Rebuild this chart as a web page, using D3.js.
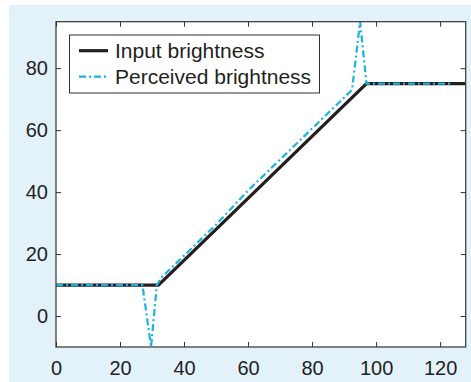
<!DOCTYPE html>
<html><head><meta charset="utf-8">
<script src="https://cdn.jsdelivr.net/npm/d3@7"></script>
<style>body{margin:0;background:#fff;}svg{display:block;}</style>
</head><body>
<svg id="c" width="471" height="382"></svg>
<script>
const inputX = [0, 32, 97, 128];
const inputY = [10, 10, 75, 75];
const percX = [0, 27, 29.7, 31.5, 33, 40, 50, 60, 70, 80, 90, 92.5, 95, 97, 124];
const percY = [10, 10, -10, 10, 12.5, 19.5, 29.5, 40.5, 50.5, 60.5, 70.5, 73, 95, 75, 75];
const xTicks = [0, 20, 40, 60, 80, 100, 120];
const yTicks = [0, 20, 40, 60, 80];
const legendLabels = ["Input brightness", "Perceived brightness"];

const svg = d3.select("#c");
svg.append("rect").attr("x", 9).attr("y", 5).attr("width", 462).attr("height", 377).attr("fill", "#e3f2fa");

const L = 56, T = 21.7, R = 465.7, B = 347;
const x = d3.scaleLinear().domain([0, 128]).range([L, R]);
const y = d3.scaleLinear().domain([-10, 95]).range([B, T]);

svg.append("rect").attr("x", L).attr("y", T).attr("width", R - L).attr("height", B - T).attr("fill", "#fff");

svg.append("clipPath").attr("id", "clip").append("rect")
  .attr("x", L).attr("y", T).attr("width", R - L).attr("height", B - T);

const textColor = "#231f20";
const font = "'Liberation Sans', Arial, sans-serif";

function styleAxis(g) {
  g.select(".domain").remove();
  g.selectAll(".tick line").attr("stroke", "#333").attr("stroke-width", 1);
  g.selectAll(".tick text").attr("fill", textColor).style("font-family", font).style("font-size", "20px");
}
svg.append("g").attr("transform", `translate(0,${B})`)
  .call(d3.axisBottom(x).tickValues(xTicks).tickSize(-5).tickPadding(14))
  .call(styleAxis);
svg.append("g").attr("transform", `translate(0,${T})`)
  .call(d3.axisTop(x).tickValues(xTicks).tickSize(-5).tickFormat(""))
  .call(styleAxis);
svg.append("g").attr("transform", `translate(${L},0)`)
  .call(d3.axisLeft(y).tickValues(yTicks).tickSize(-5).tickPadding(8))
  .call(styleAxis);
svg.append("g").attr("transform", `translate(${R},0)`)
  .call(d3.axisRight(y).tickValues(yTicks).tickSize(-5).tickFormat(""))
  .call(styleAxis);

const line = d3.line().x(d => x(d[0])).y(d => y(d[1]));
const plot = svg.append("g").attr("clip-path", "url(#clip)");
plot.append("path").datum(inputX.map((v, i) => [v, inputY[i]]))
  .attr("d", line).attr("fill", "none").attr("stroke", "#231f20").attr("stroke-width", 3.2);
plot.append("path").datum(percX.map((v, i) => [v, percY[i]]))
  .attr("d", line).attr("fill", "none").attr("stroke", "#1ab3e0").attr("stroke-width", 2.2)
  .attr("stroke-dasharray", "7,3,2,3");

svg.append("rect").attr("x", L).attr("y", T).attr("width", R - L).attr("height", B - T)
  .attr("fill", "none").attr("stroke", "#333").attr("stroke-width", 1.2);

// legend
const lg = svg.append("g");
lg.append("rect").attr("x", 69.5).attr("y", 35).attr("width", 250).attr("height", 58)
  .attr("fill", "#fff").attr("stroke", "#333").attr("stroke-width", 1);
const rows = [{s: "#231f20", w: 3.2, d: null}, {s: "#1ab3e0", w: 2.2, d: "7,3,2,3"}];
legendLabels.forEach((t, i) => {
  const yy = 50.7 + i * 26;
  lg.append("line").attr("x1", 79).attr("x2", 108).attr("y1", yy).attr("y2", yy)
    .attr("stroke", rows[i].s).attr("stroke-width", rows[i].w).attr("stroke-dasharray", rows[i].d);
  lg.append("text").attr("x", 115).attr("y", yy + 7.5).text(t)
    .attr("fill", textColor).style("font-family", font).style("font-size", "21px");
});
</script>
</body></html>
